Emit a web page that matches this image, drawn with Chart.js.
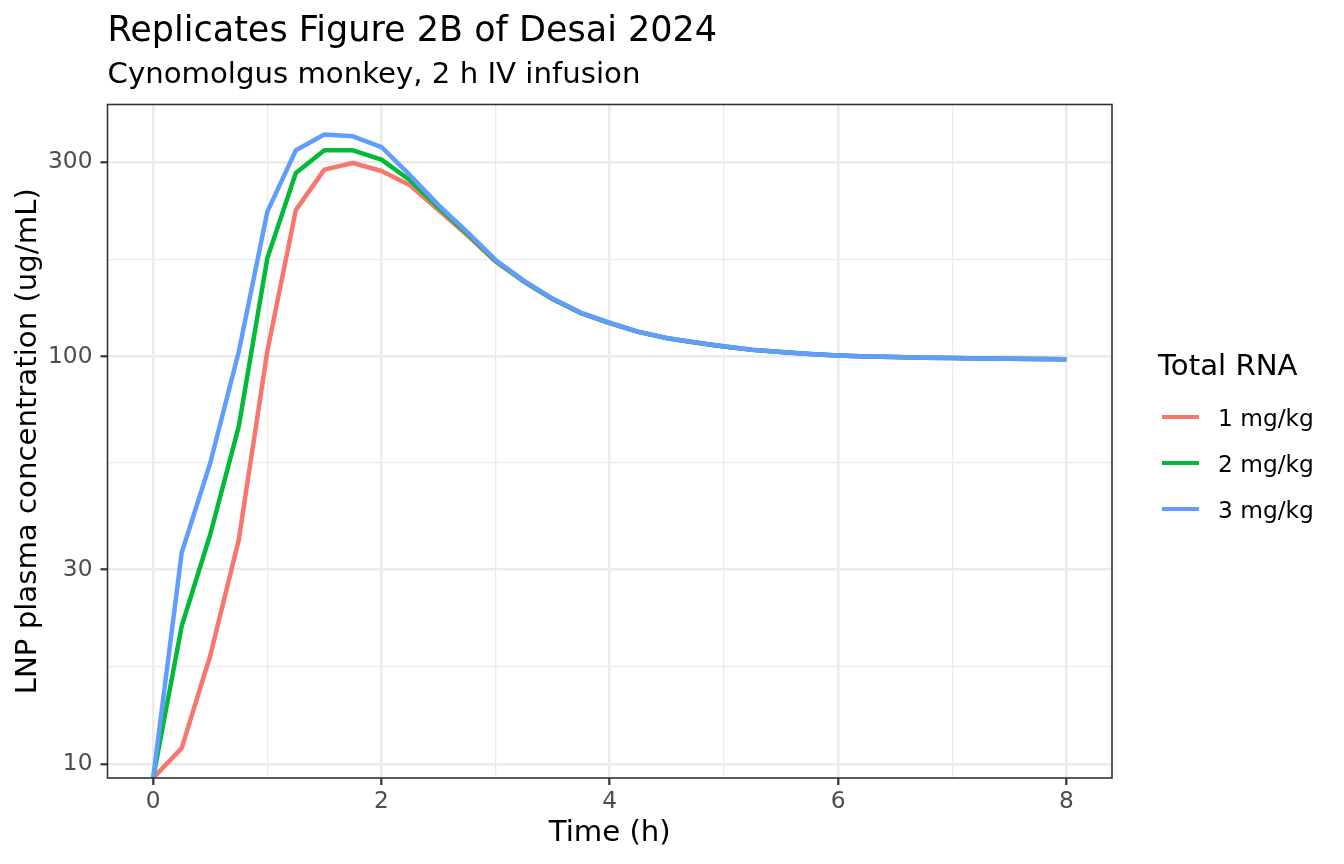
<!DOCTYPE html>
<html>
<head>
<meta charset="utf-8">
<script src="https://cdn.jsdelivr.net/npm/chart.js@4.4.1/dist/chart.umd.min.js"></script>
<style>
  html, body { margin: 0; padding: 0; background: #ffffff; }
  #wrap { position: relative; width: 1344px; height: 864px; font-family: 'DejaVu Sans', sans-serif; background: #fff; }
  #c { position: absolute; left: 0; top: 0; }
  .txt { position: absolute; white-space: nowrap; line-height: 1; color: #000; }
  .key { position: absolute; height: 4.5px; }
</style>
</head>
<body>
<div id="wrap">
  <canvas id="c" width="1344" height="864"></canvas>
  <div class="txt" id="title" style="left:107.5px; top:12px; font-size:35px;">Replicates Figure 2B of Desai 2024</div>
  <div class="txt" id="subtitle" style="left:107.5px; top:58.5px; font-size:29.2px;">Cynomolgus monkey, 2 h IV infusion</div>
  <div class="txt" id="legendTitle" style="left:1158px; top:351px; font-size:29.2px;">Total RNA</div>
</div>
<script>
// ---- data ----
const timeH = [0, 0.25, 0.5, 0.75, 1, 1.25, 1.5, 1.75, 2, 2.25, 2.5, 2.75, 3, 3.25, 3.5, 3.75, 4,
               4.25, 4.5, 4.75, 5, 5.25, 5.5, 5.75, 6, 6.25, 6.5, 6.75, 7, 7.25, 7.5, 7.75, 8];
const seriesNames = ['1 mg/kg', '2 mg/kg', '3 mg/kg'];
const seriesColors = ['#F8766D', '#00BA38', '#619CFF'];
const conc1 = [0, 10.95, 18.45, 35.5, 102.9, 228.6, 287.3, 298.3, 285.1, 263.1, 228.6, 198.6, 171.0,
               152.4, 138.1, 127.6, 120.7, 114.9, 110.9, 108.2, 105.8, 103.8, 102.5, 101.4, 100.6,
               100.0, 99.7, 99.3, 99.1, 98.9, 98.7, 98.6, 98.5];
const conc2 = [0, 21.8, 36.6, 67.4, 174.1, 281.9, 320.4, 320.4, 304.1, 270.6, 232.1, 200.4, 171.5,
               152.7, 138.3, 127.7, 120.8, 114.9, 110.9, 108.2, 105.8, 103.8, 102.5, 101.4, 100.6,
               100.0, 99.7, 99.3, 99.1, 98.9, 98.7, 98.6, 98.5];
const conc3 = [0, 33.0, 54.8, 102.7, 226.3, 320.4, 350.2, 346.7, 326.4, 278.4, 235.1, 202.2, 172.5,
               153.3, 138.7, 128.0, 121.0, 115.0, 111.0, 108.3, 105.9, 103.9, 102.5, 101.4, 100.6,
               100.0, 99.7, 99.3, 99.1, 98.9, 98.7, 98.6, 98.5];
const xMajorTicks = [0, 2, 4, 6, 8];
const xMinorTicks = [1, 3, 5, 7];
const yMajorTicks = [10, 30, 100, 300];
const yTickLabels = ['10', '30', '100', '300'];
const yMinorTicks = [17.32, 54.77, 173.2];
const xLimits = [-0.4, 8.4];
const yLimits = [9.25, 415];
const xTitle = 'Time (h)';
const yTitle = 'LNP plasma concentration (ug/mL)';

// ---- chart ----
Chart.defaults.font.family = "'DejaVu Sans', sans-serif";
const allSeries = [conc1, conc2, conc3];
// values of 0 cannot sit on a log axis: squish them to the lower edge (as ggplot does with -Inf)
const datasets = allSeries.map((vals, i) => ({
  label: seriesNames[i],
  data: timeH.map((t, j) => ({ x: t, y: vals[j] > 0 ? vals[j] : yLimits[0] })),
  borderColor: seriesColors[i],
  backgroundColor: seriesColors[i],
  borderWidth: 4.5,
  pointRadius: 0,
  pointHoverRadius: 0,
  tension: 0,
  fill: false,
  borderJoinStyle: 'round',
  borderCapStyle: 'butt',
  clip: 0,
  order: allSeries.length - i
}));

const isMajorX = v => xMajorTicks.some(m => Math.abs(m - v) < 1e-9);
const isMajorY = v => yMajorTicks.some(m => Math.abs(m - v) / m < 1e-6);

const borderPlugin = {
  id: 'panelBorder',
  afterDraw(chart) {
    const { ctx, chartArea: a } = chart;
    ctx.save();
    ctx.strokeStyle = '#333333';
    ctx.lineWidth = 1.6;
    ctx.strokeRect(a.left, a.top, a.right - a.left, a.bottom - a.top);
    ctx.restore();
  }
};

new Chart(document.getElementById('c'), {
  type: 'line',
  data: { datasets },
  plugins: [borderPlugin],
  options: {
    responsive: false,
    animation: false,
    events: [],
    layout: { padding: { left: 0, top: 104.5, right: 232, bottom: 0 } },
    plugins: { legend: { display: false }, title: { display: false }, tooltip: { enabled: false } },
    scales: {
      x: {
        type: 'linear',
        min: xLimits[0],
        max: xLimits[1],
        afterBuildTicks(scale) {
          scale.ticks = xMajorTicks.concat(xMinorTicks).sort((a, b) => a - b).map(v => ({ value: v }));
        },
        afterFit(scale) { scale.height = 86; },
        ticks: {
          autoSkip: false,
          maxRotation: 0,
          padding: 2.5,
          color: '#4D4D4D',
          font: { size: 23.3, lineHeight: 1.2 },
          callback: v => isMajorX(v) ? String(v) : ''
        },
        grid: {
          drawTicks: true,
          tickLength: 7,
          color: ctx => '#EBEBEB',
          lineWidth: ctx => (ctx.tick && isMajorX(ctx.tick.value)) ? 2.6 : 1.3,
          tickColor: ctx => (ctx.tick && isMajorX(ctx.tick.value)) ? '#333333' : 'rgba(0,0,0,0)',
          tickWidth: 2.2
        },
        border: { display: false },
        title: {
          display: true,
          text: xTitle,
          color: '#000000',
          font: { size: 29.2, lineHeight: 1.2 },
          padding: { top: 0, bottom: 13.2 }
        }
      },
      y: {
        type: 'logarithmic',
        min: yLimits[0],
        max: yLimits[1],
        afterBuildTicks(scale) {
          scale.ticks = yMajorTicks.concat(yMinorTicks).sort((a, b) => a - b).map(v => ({ value: v }));
        },
        afterFit(scale) { scale.width = 107.5; },
        ticks: {
          autoSkip: false,
          padding: 8,
          color: '#4D4D4D',
          font: { size: 23.3, lineHeight: 1.2 },
          callback: v => {
            const k = yMajorTicks.findIndex(m => Math.abs(m - v) / m < 1e-6);
            return k >= 0 ? yTickLabels[k] : '';
          }
        },
        grid: {
          drawTicks: true,
          tickLength: 7,
          color: ctx => '#EBEBEB',
          lineWidth: ctx => (ctx.tick && isMajorY(ctx.tick.value)) ? 2.6 : 1.3,
          tickColor: ctx => (ctx.tick && isMajorY(ctx.tick.value)) ? '#333333' : 'rgba(0,0,0,0)',
          tickWidth: 2.2
        },
        border: { display: false },
        title: {
          display: true,
          text: yTitle,
          color: '#000000',
          font: { size: 29.2, lineHeight: 1.2 },
          padding: { top: 10.5, bottom: 0 }
        }
      }
    }
  }
});

// ---- legend (ggplot-style, to the right of the panel) ----
const wrap = document.getElementById('wrap');
const keyY0 = 417, keyStep = 46;
seriesNames.forEach((name, i) => {
  const y = keyY0 + i * keyStep;
  const key = document.createElement('div');
  key.className = 'key';
  key.style.left = '1162px';
  key.style.width = '37px';
  key.style.top = (y - 2.25) + 'px';
  key.style.background = seriesColors[i];
  wrap.appendChild(key);
  const lab = document.createElement('div');
  lab.className = 'txt';
  lab.style.left = '1218px';
  lab.style.top = (y - 11.2) + 'px';
  lab.style.fontSize = '23.3px';
  lab.textContent = name;
  wrap.appendChild(lab);
});
</script>
</body>
</html>
